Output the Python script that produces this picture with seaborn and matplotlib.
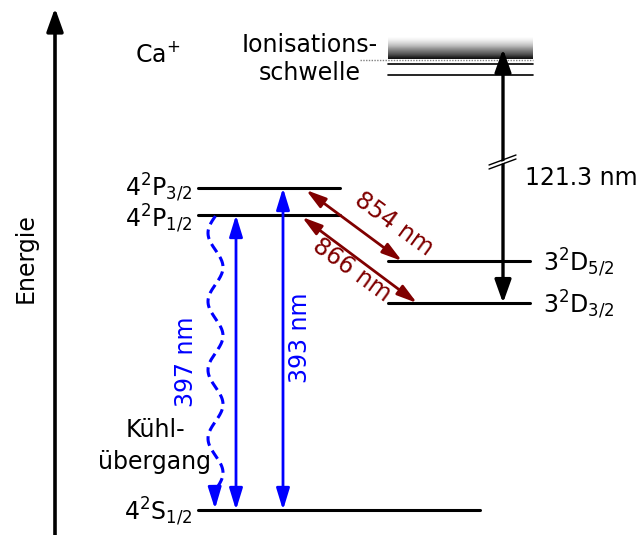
import numpy as np
import pandas as pd
import matplotlib
matplotlib.use("Agg")
import matplotlib.pyplot as plt
import seaborn as sns
from matplotlib.patches import FancyArrowPatch

sns.set_theme(style="white")
plt.rcParams["font.family"] = ["DejaVu Sans"]
plt.rcParams["mathtext.fontset"] = "dejavusans"
plt.rcParams["text.color"] = "black"

# Ca+ term scheme (vertical coordinate: drawing units, top = 0)
level_names = [r"$4^2\mathrm{S}_{1/2}$", r"$4^2\mathrm{P}_{1/2}$", r"$4^2\mathrm{P}_{3/2}$",
               r"$3^2\mathrm{D}_{3/2}$", r"$3^2\mathrm{D}_{5/2}$"]
level_keys = ["S12", "P12", "P32", "D32", "D52"]
level_energy = [510, 215, 188, 303, 261]
ionisation_lines = [64, 75]
ionisation_edge = 60

# transitions: (lower, upper, label)
blue_transitions = [("S12", "P12", "397 nm"), ("S12", "P32", "393 nm")]
red_transitions = [("D52", "P32", "854 nm"), ("D32", "P12", "866 nm")]
uv_label = "121.3 nm"

E = dict(zip(level_keys, level_energy))

# horizontal extents of the level bars
x_span = {"S12": (198, 480), "P12": (198, 340), "P32": (198, 340),
          "D32": (388, 530), "D52": (388, 530)}
# small vertical nudges for the level labels
label_dy = {"S12": 2, "P12": 3.5, "P32": 0, "D32": 2, "D52": 2}

rows = []
for k in level_keys:
    for xx in x_span[k]:
        rows.append({"level": k, "x": xx, "E": E[k]})
df = pd.DataFrame(rows)

rows_ion = []
for i, yy in enumerate(ionisation_lines):
    for xx in (388, 533):
        rows_ion.append({"level": f"ion{i}", "x": xx, "E": yy})
df_ion = pd.DataFrame(rows_ion)

fig = plt.figure(figsize=(6.4, 5.35), dpi=100)
ax = fig.add_axes([0, 0, 1, 1])

sns.lineplot(data=df, x="x", y="E", units="level", estimator=None,
             color="black", lw=2.2, ax=ax, legend=False)
sns.lineplot(data=df_ion, x="x", y="E", units="level", estimator=None,
             color="black", lw=1.2, ax=ax, legend=False)

# ionisation continuum as a gradient band
grad = np.linspace(0, 1, 100)[:, None]
ax.imshow(grad, extent=(388, 533, ionisation_edge - 1, 37), cmap="Greys",
          vmin=0, vmax=1.05, aspect="auto", interpolation="bilinear", zorder=1)
ax.plot([360, 533], [ionisation_edge, ionisation_edge], color="0.5", lw=1, ls=(0, (1, 1)))

ax.set_xlim(0, 640)
ax.set_ylim(535, 0)
ax.axis("off")

fs = 17


def arrow(p0, p1, style, color, lw, hl, hw):
    a = FancyArrowPatch(p0, p1, arrowstyle=f"{style},head_length={hl},head_width={hw}",
                        color=color, lw=lw, shrinkA=0, shrinkB=0,
                        mutation_scale=1, zorder=3)
    ax.add_patch(a)


# energy axis
arrow((55, 535), (55, 8), "-|>", "black", 2.6, 14, 5)
ax.text(26, 258, "Energie", rotation=90, ha="center", va="center", fontsize=fs)
ax.text(158, 55, r"Ca$^{+}$", ha="center", va="center", fontsize=fs)
ax.text(378, 45, "Ionisations-", ha="right", va="center", fontsize=fs)
ax.text(361, 73, "schwelle", ha="right", va="center", fontsize=fs)

# level labels
for k, name in zip(level_keys, level_names):
    if k.startswith("D"):
        ax.text(543, E[k] + label_dy[k], name, ha="left", va="center", fontsize=fs)
    else:
        ax.text(192, E[k] + label_dy[k], name, ha="right", va="center", fontsize=fs)

# blue transitions
blue_x = [236, 283]
for (lo, up, lab), xx in zip(blue_transitions, blue_x):
    arrow((xx, E[lo]), (xx, E[up]), "<|-|>", "blue", 2, 13, 4)
ax.text(186, 362, blue_transitions[0][2], rotation=90, ha="center", va="center",
        fontsize=fs, color="blue")
ax.text(300, 338, blue_transitions[1][2], rotation=90, ha="center", va="center",
        fontsize=fs, color="blue")

# cooling transition (wavy, dashed)
yy = np.linspace(E["P12"] + 1, 491, 300)
xx = 215.5 - 7.5 * np.cos(2 * np.pi * (yy - 233) / 68.5)
ax.plot(xx, yy, color="blue", lw=2.2, ls=(0, (3.2, 1.8)))
arrow((xx[-1], 489), (215, E["S12"] - 1), "-|>", "blue", 2, 13, 4)
ax.text(155, 430, "Kühl-", ha="center", va="center", fontsize=fs)
ax.text(155, 462, "übergang", ha="center", va="center", fontsize=fs)

# repumper transitions
red = "#800000"
arrow((402, E["D52"]), (306, 190), "<|-|>", red, 2, 12, 3.5)
arrow((417, E["D32"]), (302, 217), "<|-|>", red, 2, 12, 3.5)
ax.text(394, 224, red_transitions[0][2], rotation=-36, ha="center", va="center",
        fontsize=fs, color=red)
ax.text(352, 270, red_transitions[1][2], rotation=-36, ha="center", va="center",
        fontsize=fs, color=red)

# D3/2 -> continuum (axis break)
arrow((503, E["D32"]), (503, 49), "<|-|>", "black", 2.4, 14, 5)
for dy in (0, 4):
    ax.plot([489, 516], [165 + dy, 155 + dy], color="black", lw=1, zorder=4)
ax.fill([490, 516, 516, 490], [166, 156.5, 158.5, 168], color="white", zorder=3.5, lw=0)
ax.text(525, 178, uv_label, ha="left", va="center", fontsize=fs)

fig.savefig("out.png", dpi=100)
